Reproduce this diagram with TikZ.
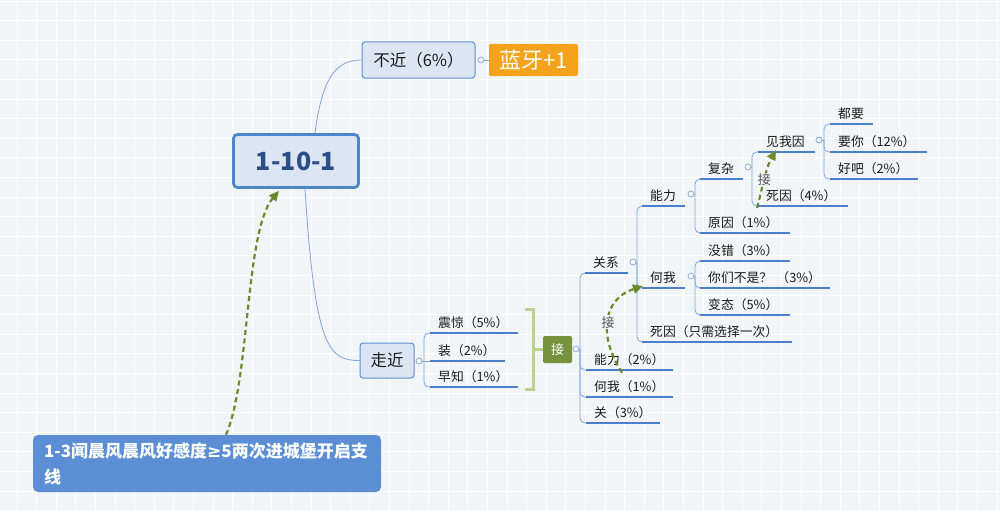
\documentclass[tikz,border=0pt]{standalone}
\usepackage{fontspec}
\setmainfont{Noto Sans CJK SC}
\newfontfamily\symfont{DejaVu Sans}
\usetikzlibrary{arrows.meta,calc}
\definecolor{bg}{HTML}{F1F5F8}
\definecolor{conncol}{HTML}{7FA7DC}
\definecolor{ulcol}{HTML}{4A7FCF}
\definecolor{knobcol}{HTML}{8AA6CF}
\definecolor{boxfill}{HTML}{DCE6F3}
\definecolor{boxdraw}{HTML}{5B8FD3}
\definecolor{rootdraw}{HTML}{4A86C8}
\definecolor{roottext}{HTML}{2C4E85}
\definecolor{orangefill}{HTML}{F5A31C}
\definecolor{jiefill}{HTML}{76923C}
\definecolor{bracketcol}{HTML}{B9D38F}
\definecolor{dashcol}{HTML}{6A8A2C}
\definecolor{notefill}{HTML}{5B8ED5}
\definecolor{txt}{HTML}{1A1A1A}
\definecolor{labcol}{HTML}{555555}
\newcommand\mmstub[2]{\draw[conn] (#1.east) -- (#1.east -| #2);}
\newcommand\mmlink[3]{\draw[conn,rounded corners=5pt] (#1.east -| #2) -- (#3.south west -| #2) -- (#3.south west);}
\tikzset{
 conn/.style={draw=conncol,line width=0.8pt},
 ul/.style={draw=ulcol,line width=1.8pt},
 leaf/.style={anchor=south west,inner xsep=8pt,inner ysep=2.5pt,text height=10pt,text depth=3pt,align=left,font=\fontsize{12.8}{14}\selectfont,text=txt},
 knob/.style={circle,draw=knobcol,fill=bg,line width=0.7pt,inner sep=0pt,minimum size=6pt},
 topic/.style={draw=boxdraw,fill=boxfill,rounded corners=3pt,line width=1pt,text=txt,inner sep=0pt},
 rel/.style={draw=dashcol,line width=2.2pt,dash pattern=on 5pt off 3.5pt,-{Triangle[length=10pt,width=9pt]}},
 rellabel/.style={fill=bg,inner sep=1pt,text=labcol,font=\fontsize{13}{14}\selectfont},
 bracketline/.style={draw=bracketcol,line width=3pt},
}
\begin{document}
\begin{tikzpicture}[x=1pt,y=-1pt]
\useasboundingbox (0,0) rectangle (1000,511);
\fill[bg] (0,0) rectangle (1000,511);
\foreach \i in {0,...,51}{\draw[white,line width=0.7pt] ({17+19.6*\i},0) -- ({17+19.6*\i},511);}
\foreach \j in {0,...,26}{\draw[white,line width=0.7pt] (0,{1+19.6*\j}) -- (1000,{1+19.6*\j});}

% main topics
\node[draw=rootdraw,fill=boxfill,line width=2.8pt,rounded corners=4pt,minimum width=125pt,minimum height=53pt,font=\bfseries\fontsize{25}{25}\selectfont,text=roottext] (root) at (296,161) {1-10-1};
\node[topic,minimum width=113pt,minimum height=36pt,font=\fontsize{16.5}{18}\selectfont] (bj) at (418.5,60) {不近（6\%）};
\node[fill=orangefill,rounded corners=2pt,minimum width=89pt,minimum height=32pt,inner sep=0pt,text=white,font=\fontsize{22}{22}\selectfont] (lan) at (533.5,60) {蓝牙+1};
\node[topic,minimum width=54pt,minimum height=35pt,font=\fontsize{16.5}{18}\selectfont] (zjn) at (387,360.5) {走近};
\node[fill=jiefill,rounded corners=2pt,minimum width=29pt,minimum height=27pt,inner sep=0pt,text=white,font=\fontsize{13}{14}\selectfont] (jie) at (557.5,349.5) {接};
\node[fill=notefill,rounded corners=5pt,minimum width=348pt,minimum height=57pt,inner xsep=11pt,text width=326pt,align=left,text=white,font=\bfseries\fontsize{17}{26}\selectfont] (note) at (207,463.5) {1-3闻晨风晨风好感度{\symfont\bfseries ≥}5两次进城堡开启支\\线};

% knobs
\node[knob] (kbj) at (481,60) {};
\node[knob] (kzj) at (419,361) {};
\node[knob] (kj) at (576,349) {};
\node[knob] (kgx) at (633,262) {};
\node[knob] (knl) at (691,194) {};
\node[knob] (khw) at (691,276) {};
\node[knob] (kfz) at (748,167) {};
\node[knob] (kjw) at (819,140) {};

% trunk x positions
\coordinate (tzj) at (424,0);
\coordinate (tj) at (580,0);
\coordinate (tgx) at (637,0);
\coordinate (tnl) at (695,0);
\coordinate (thw) at (695,0);
\coordinate (tfz) at (752,0);
\coordinate (tjw) at (824,0);

% leaves
\node[leaf,text width=72pt] (zj) at (430,333) {震惊（5\%）};
\node[leaf,text width=59pt] (zh) at (430,361) {装（2\%）};
\node[leaf,text width=72pt] (zz) at (430,387) {早知（1\%）};
\node[leaf,text width=27pt] (gx) at (585,273) {关系};
\node[leaf,text width=71pt] (nl2) at (586,370) {能力（2\%）};
\node[leaf,text width=71pt] (hw1) at (586,397) {何我（1\%）};
\node[leaf,text width=58pt] (g3) at (586,423) {关（3\%）};
\node[leaf,text width=27pt] (nl) at (642,206) {能力};
\node[leaf,text width=27pt] (hw) at (642,288) {何我};
\node[leaf,text width=134pt] (si) at (642,342) {死因（只需选择一次）};
\node[leaf,text width=27pt] (fz) at (700,179) {复杂};
\node[leaf,text width=74pt] (yy) at (700,233) {原因（1\%）};
\node[leaf,text width=74pt] (mc) at (700,261) {没错（3\%）};
\node[leaf,text width=114pt] (nm) at (700,288) {你们不是？~（3\%）};
\node[leaf,text width=74pt] (bt) at (700,315) {变态（5\%）};
\node[leaf,text width=41pt] (jw) at (758,152) {见我因};
\node[leaf,text width=74pt] (s4) at (758,206) {死因（4\%）};
\node[leaf,text width=27pt] (dy) at (830,124) {都要};
\node[leaf,text width=81pt] (yn) at (830,152) {要你（12\%）};
\node[leaf,text width=72pt] (hb) at (830,179) {好吧（2\%）};

% root connectors
\draw[conn] ($(root.north)+(19,0)$) .. controls +(7,-53) and +(-27,0) .. (bj.west);
\draw[conn] ($(root.south)+(9,0)$) .. controls +(10,161) and +(-30,0) .. (zjn.west);
\draw[conn] (kbj.east) -- (lan.west);

% tree connectors
\draw[conn] (kzj.east) -- (zh.south west);
\mmstub{kzj}{tzj}
\mmlink{kzj}{tzj}{zj}
\mmlink{kzj}{tzj}{zz}
\mmstub{kj}{tj}
\mmlink{kj}{tj}{gx}
\mmlink{kj}{tj}{nl2}
\mmlink{kj}{tj}{hw1}
\mmlink{kj}{tj}{g3}
\mmstub{kgx}{tgx}
\mmlink{kgx}{tgx}{nl}
\mmlink{kgx}{tgx}{hw}
\mmlink{kgx}{tgx}{si}
\mmstub{knl}{tnl}
\mmlink{knl}{tnl}{fz}
\mmlink{knl}{tnl}{yy}
\mmstub{khw}{thw}
\mmlink{khw}{thw}{mc}
\mmlink{khw}{thw}{nm}
\mmlink{khw}{thw}{bt}
\mmstub{kfz}{tfz}
\mmlink{kfz}{tfz}{jw}
\mmlink{kfz}{tfz}{s4}
\mmstub{kjw}{tjw}
\mmlink{kjw}{tjw}{dy}
\mmlink{kjw}{tjw}{yn}
\mmlink{kjw}{tjw}{hb}

% underlines
\foreach \n in {zj,zh,zz,gx,nl2,hw1,g3,nl,hw,si,fz,yy,mc,nm,bt,jw,s4,dy,yn,hb}{
  \draw[ul] (\n.south west) -- (\n.south east);
}

% bracket
\draw[bracketline] (525,309) -- (533,309) -- (533,389) -- (525,389);
\draw[bracketline] (533,349.5) -- (jie.west);

% relationship arrows
\draw[rel] ($(note.north)+(19,0)$) .. controls +(24,-55) and +(-34,40) .. ($(root.south)+(-17,2)$);
\draw[rel] ($(hw1.north west)+(36,-6)$) .. controls +(-22,-33) and +(-43,14) .. ($(hw.south west)+(1,-2)$) node[rellabel,pos=0.5] (l2) {接};
\draw[rel] ($(s4.south west)+(-1,2)$) .. controls +(5,-18) and +(-11,20) .. ($(jw.south west)+(18,-2)$) node[rellabel,pos=0.5] (l3) {接};
\end{tikzpicture}
\end{document}
